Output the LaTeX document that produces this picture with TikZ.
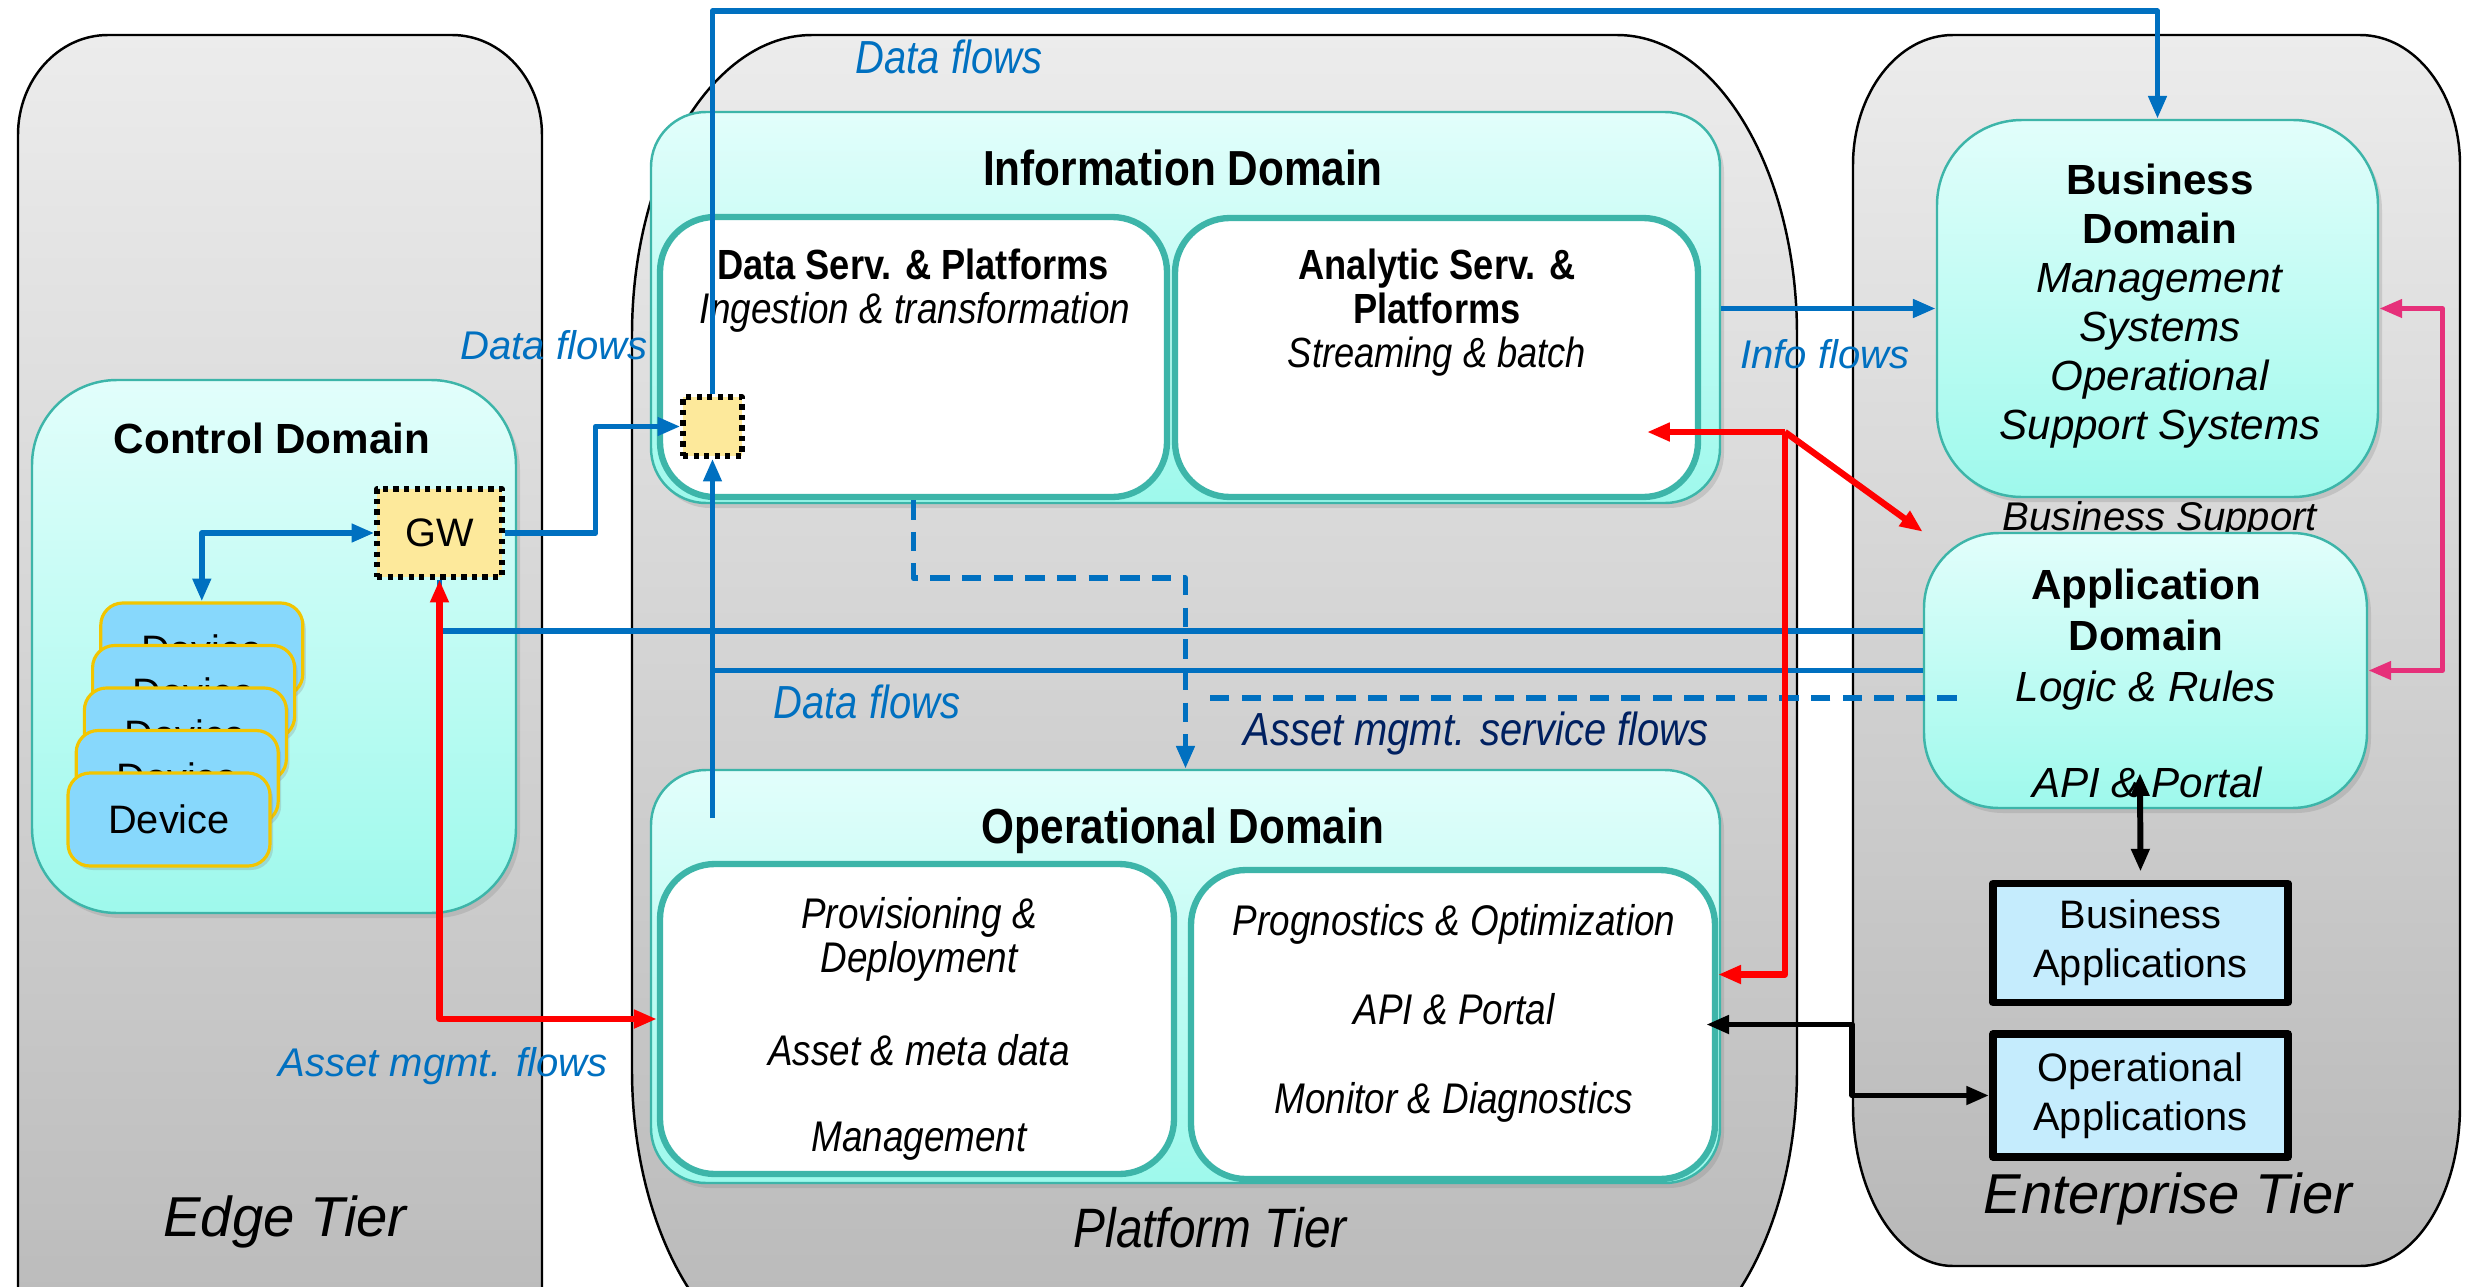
\documentclass[tikz,border=0pt]{standalone}
\usepackage{fontspec}
\setmainfont{Liberation Sans}
\newfontfamily\condfont[FakeStretch=0.86]{Liberation Sans}
\usetikzlibrary{arrows.meta,shadows,positioning}
\definecolor{flowblue}{HTML}{0070C0}
\definecolor{navyblue}{HTML}{002060}
\definecolor{tealline}{HTML}{3DB5A9}
\definecolor{domtop}{HTML}{E2FEFB}
\definecolor{dombot}{HTML}{9EF9EC}
\definecolor{tiertop}{HTML}{ECECEC}
\definecolor{tierbot}{HTML}{B8B8B8}
\definecolor{devfill}{HTML}{87D8FC}
\definecolor{devline}{HTML}{F2C500}
\definecolor{gwfill}{HTML}{FDE99B}
\definecolor{appfill}{HTML}{C5ECFD}
\definecolor{pinkline}{HTML}{E6307A}

\begin{document}
\begin{tikzpicture}[line join=round,>={Triangle[length=6.5pt,width=5pt]},
	tier/.style={draw=black,line width=0.7pt,top color=tiertop,bottom color=tierbot},
	dombox/.style={draw=tealline,line width=0.7pt,rounded corners=0.55cm,top color=domtop,bottom color=dombot,drop shadow={opacity=0.25,shadow xshift=0.04cm,shadow yshift=-0.05cm}},
	inbox/.style={draw=tealline,line width=1.8pt,fill=white,rounded corners=0.55cm},
	device/.style={draw=devline,line width=0.9pt,fill=devfill,rounded corners=0.22cm,minimum width=2.02cm,minimum height=0.93cm,font=\fontsize{11.3}{13}\selectfont,drop shadow={opacity=0.25,shadow xshift=0.03cm,shadow yshift=-0.04cm}},
	gwbox/.style={draw=black,line width=1.5pt,dash pattern=on 1.5pt off 1.5pt,fill=gwfill,inner sep=0pt},
	appbox/.style={draw=black,line width=2.2pt,fill=appfill,minimum width=2.95cm,align=center,font=\fontsize{11.3}{13.9}\selectfont},
	title/.style={font=\fontsize{12}{14}\selectfont\bfseries},
	ctitle/.style={font=\condfont\fontsize{14}{16}\selectfont\bfseries},
	cbody/.style={align=center,font=\condfont\fontsize{12.2}{12.5}\selectfont\itshape},
	lbl/.style={text=flowblue,font=\fontsize{11.4}{13}\selectfont\itshape},
	clbl/.style={text=flowblue,font=\condfont\fontsize{13.2}{15}\selectfont\itshape},
	flow/.style={draw=flowblue,line width=1.6pt},
	dflow/.style={flow,dash pattern=on 5.5pt off 3.5pt},
	redflow/.style={draw=red,line width=1.8pt},
	pinkflow/.style={draw=pinkline,line width=1.5pt},
	blackflow/.style={draw=black,line width=1.7pt}]
	\useasboundingbox (0,0) rectangle (24.81,-12.87);
	\fill[white] (0,0) rectangle (24.81,-12.87);
	% tiers
	\draw[tier] (0.18,-14) -- (0.18,-1.35) arc[start angle=180,end angle=90,x radius=0.9,y radius=1] -- (4.52,-0.35) arc[start angle=90,end angle=0,x radius=0.9,y radius=1] -- (5.42,-14) -- cycle;
	\draw[tier] (6.32,-3.35) arc[start angle=180,end angle=90,x radius=1.8,y radius=3] -- (16.17,-0.35) arc[start angle=90,end angle=0,x radius=1.8,y radius=3] -- (17.97,-10.7) arc[start angle=0,end angle=-90,x radius=1.8,y radius=3] -- (8.12,-13.7) arc[start angle=270,end angle=180,x radius=1.8,y radius=3] -- cycle;
	\draw[tier] (18.53,-1.65) arc[start angle=180,end angle=90,x radius=1,y radius=1.3] -- (23.6,-0.35) arc[start angle=90,end angle=0,x radius=1,y radius=1.3] -- (24.6,-11.06) arc[start angle=0,end angle=-90,x radius=1,y radius=1.6] -- (19.53,-12.66) arc[start angle=270,end angle=180,x radius=1,y radius=1.6] -- cycle;
	\node[font=\fontsize{16}{18}\selectfont\itshape] (edgetier) at (2.85,-12.22) {Edge Tier};
	\node[font=\condfont\fontsize{15.8}{18}\selectfont\itshape] (plattier) at (12.1,-12.28) {Platform Tier};
	\node[font=\fontsize{16}{18}\selectfont\itshape] (enttier) at (21.68,-11.99) {Enterprise Tier};
	% domains
	\node[dombox,rounded corners=0.85cm,minimum width=4.84cm,minimum height=5.33cm] (ctrl) at (2.74,-6.465) {};
	\node[title] (ctrltitle) at (2.72,-4.38) {Control Domain};
	\node[dombox,minimum width=10.69cm,minimum height=3.91cm] (info) at (11.855,-3.075) {};
	\node[inbox,minimum width=5.07cm,minimum height=2.8cm] (dsp) at (9.135,-3.57) {};
	\node[inbox,minimum width=5.23cm,minimum height=2.79cm] (asp) at (14.365,-3.575) {};
	\node[ctitle] (infotitle) at (11.83,-1.68) {Information Domain};
	\node[ctitle,font=\condfont\fontsize{12}{14}\selectfont\bfseries] (dsptitle) at (9.13,-2.64) {Data Serv. \& Platforms};
	\node[cbody] (dspsub) at (9.15,-3.12) {Ingestion \& transformation};
	\node[cbody,font=\condfont\fontsize{12}{12.5}\selectfont] (asptxt) at (14.37,-3.13) {\textbf{Analytic Serv. \&}\\\textbf{Platforms}\\\textit{Streaming \& batch}};
	\node[dombox,minimum width=10.69cm,minimum height=4.13cm] (opd) at (11.855,-9.765) {};
	\node[inbox,minimum width=5.14cm,minimum height=3.1cm] (prov) at (9.17,-10.19) {};
	\node[inbox,minimum width=5.24cm,minimum height=3.09cm] (prog) at (14.53,-10.245) {};
	\node[ctitle] (optitle) at (11.83,-8.31) {Operational Domain};
	\node[cbody] (provtxt) at (9.19,-9.39) {Provisioning \&\\Deployment};
	\node[cbody] (assettxt) at (9.19,-10.5) {Asset \& meta data};
	\node[cbody] (mgmttxt) at (9.19,-11.41) {Management};
	\node[cbody] (progtxt) at (14.54,-9.24) {Prognostics \& Optimization};
	\node[cbody] (apitxt) at (14.54,-10.09) {API \& Portal};
	\node[cbody] (montxt) at (14.54,-11.02) {Monitor \& Diagnostics};
	\node[dombox,rounded corners=0.85cm,minimum width=4.41cm,minimum height=3.77cm] (bus) at (21.575,-3.085) {};
	\node[align=center,font=\fontsize{12}{13.9}\selectfont] (bustxt) at (21.6,-3.06) {\textbf{Business}\\\textbf{Domain}\\\textit{Management}\\\textit{Systems}\\\textit{Operational}\\\textit{Support Systems}};
	\node[font=\fontsize{11.4}{13}\selectfont\itshape] (bussup) at (21.6,-5.2) {Business Support};
	\node[dombox,rounded corners=0.75cm,minimum width=4.43cm,minimum height=2.75cm] (app) at (21.455,-6.705) {};
	\node[align=center,font=\fontsize{12}{14.5}\selectfont] (apptxt) at (21.46,-6.4) {\textbf{Application}\\\textbf{Domain}\\\textit{Logic \& Rules}};
	\node[font=\fontsize{12}{14}\selectfont\itshape] (appapi) at (21.47,-7.82) {API \& Portal};
	\node[appbox,minimum height=1.19cm] (busapp) at (21.405,-9.43) {Business\\Applications};
	\node[appbox,minimum height=1.23cm] (opapp) at (21.405,-10.955) {Operational\\Applications};
	% devices and gateways
	\foreach \i in {4,3,2,1,0}
		\node[device] (dev\i) at ({1.69+0.082*\i},{-8.195+0.425*\i}) {Device};
	\node[gwbox,minimum width=1.25cm,minimum height=0.88cm,font=\fontsize{11.3}{13}\selectfont] (gw) at (4.395,-5.33) {GW};
	\node[gwbox,minimum width=0.59cm,minimum height=0.59cm] (ing) at (7.125,-4.265) {};
	% blue flows
	\coordinate (topline) at (0,-0.11);
	\coordinate (opsrc) at (7.125,-8.18);
	\coordinate (amsend) at (11.98,-6.98);
	\draw[flow,->] (gw.east) -- ++(0.91,0) |- (ing.west);
	\draw[flow,<->] (gw.west) -| (dev4.north);
	\draw[flow,->] (ing.north) -- (ing.north |- topline) -| (bus.north);
	\draw[flow,->] (opsrc) -- (ing.south);
	\draw[flow] ([yshift=0.395cm]app.west) -| (gw.south);
	\draw[flow] (app.west) -- (app.west -| ing.south);
	\draw[flow,->] (info.east |- bus.west) -- (bus.west);
	\draw[dflow,->] (dsp.south) -- ++(0,-0.78) -| (opd.north);
	\draw[dflow] ([xshift=0.34cm,yshift=-0.275cm]app.west) -- (amsend);
	% red flows
	\coordinate (redhub) at (17.85,-4.32);
	\coordinate (ascin) at (16.47,-4.32);
	\draw[redflow,<->] (gw.south) |- (prov.west);
	\draw[redflow,->] (redhub) -- (ascin);
	\draw[redflow,->] (redhub) |- ([yshift=0.5cm]prog.east);
	\draw[redflow,->] (redhub) -- (app.north west);
	% enterprise links
	\coordinate (apiin) at (21.4,-7.73);
	\draw[pinkflow,<->] (bus.east) -- ++(0.63,0) |- (app.east);
	\draw[blackflow,<->] (apiin) -- ([yshift=0.08cm]busapp.north);
	\draw[blackflow,<->] ([xshift=-0.12cm]prog.east) -- ++(1.46,0) |- (opapp.west);
	% flow labels
	\node[clbl] (dftop) at (9.49,-0.57) {Data flows};
	\node[lbl] (dfedge) at (5.54,-3.45) {Data flows};
	\node[clbl] (dfmid) at (8.67,-7.02) {Data flows};
	\node[lbl] (infofl) at (18.25,-3.54) {Info flows};
	\node[clbl,text=navyblue] (amsfl) at (14.76,-7.33) {Asset mgmt. service flows};
	\node[lbl] (amfl) at (4.43,-10.66) {Asset mgmt. flows};
\end{tikzpicture}
\end{document}
